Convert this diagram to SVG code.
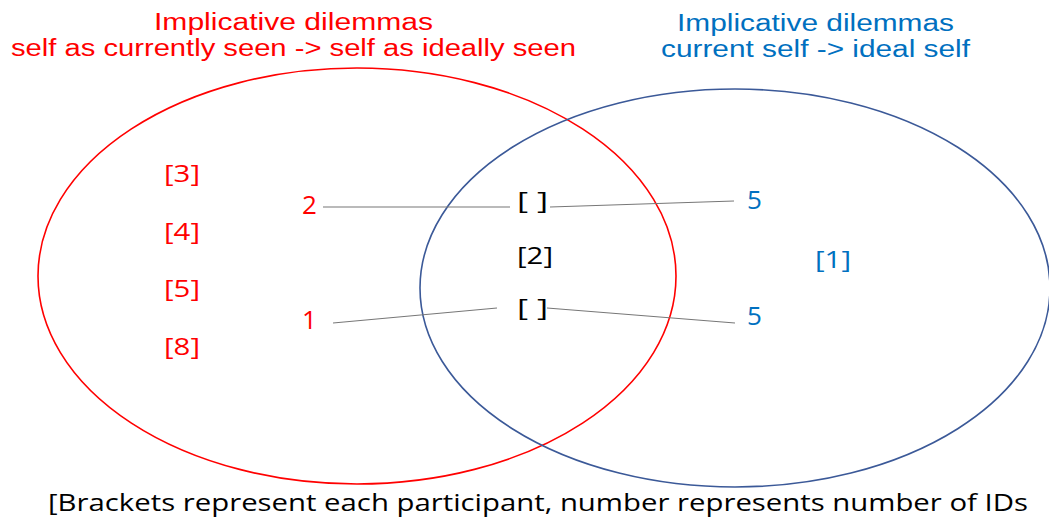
<svg xmlns="http://www.w3.org/2000/svg" width="1049" height="520" viewBox="0 0 1049 520">
<style>
text{font-family:"Open Sans","Liberation Sans",sans-serif;font-size:24px}
.t{font-family:"Liberation Sans","Open Sans",sans-serif;font-size:23px}
.n{font-size:26px}
.r{fill:#ff0000}.b{fill:#0070c0}.k{fill:#000}
.c{stroke:#777;stroke-width:1.2;fill:none}
</style>
<rect width="1049" height="520" fill="#fff"/>
<g id="ellipse-red"><ellipse cx="357" cy="276" rx="319" ry="208" fill="none" stroke="#ff0000" stroke-width="1.6"/></g>
<g id="ellipse-blue"><ellipse cx="735" cy="288" rx="315" ry="199" fill="none" stroke="#3b5998" stroke-width="1.6"/></g>
<g id="title-red"><text x="154" y="30" class="r t" textLength="279" lengthAdjust="spacingAndGlyphs">Implicative dilemmas</text><text x="11" y="56" class="r t" textLength="565" lengthAdjust="spacingAndGlyphs">self as currently seen -&gt; self as ideally seen</text></g>
<g id="title-blue"><text x="677" y="31" class="b t" textLength="277" lengthAdjust="spacingAndGlyphs">Implicative dilemmas</text><text x="661" y="57" class="b t" textLength="309" lengthAdjust="spacingAndGlyphs">current self -&gt; ideal self</text></g>
<g id="red-list"><text x="164" y="182" class="r" textLength="36" lengthAdjust="spacingAndGlyphs">[3]</text><text x="164" y="240" class="r" textLength="36" lengthAdjust="spacingAndGlyphs">[4]</text><text x="164" y="297" class="r" textLength="36" lengthAdjust="spacingAndGlyphs">[5]</text><text x="164" y="355" class="r" textLength="36" lengthAdjust="spacingAndGlyphs">[8]</text></g>
<g id="n2-red"><text x="302" y="214" class="r n">2</text></g>
<g id="n1-red"><text x="302" y="329" class="r n">1</text></g>
<g id="p-top"><text x="517" y="209" class="k" textLength="31" lengthAdjust="spacingAndGlyphs">[  ]</text></g>
<g id="p-mid"><text x="517" y="264" class="k" textLength="36" lengthAdjust="spacingAndGlyphs">[2]</text></g>
<g id="p-bot"><text x="517" y="316" class="k" textLength="31" lengthAdjust="spacingAndGlyphs">[  ]</text></g>
<g id="n5-top"><text x="747" y="209" class="b n">5</text></g>
<g id="n5-bot"><text x="747" y="325" class="b n">5</text></g>
<g id="blue-list"><text x="815" y="268" class="b" textLength="36" lengthAdjust="spacingAndGlyphs">[1]</text></g>
<g id="connectors">
<line class="c" x1="323" y1="207" x2="510" y2="207"/>
<line class="c" x1="550" y1="207" x2="734" y2="201"/>
<line class="c" x1="333" y1="323" x2="497" y2="308"/>
<line class="c" x1="547" y1="308" x2="735" y2="323"/>
</g>
<g id="footer"><text x="48" y="511" class="k" textLength="980" lengthAdjust="spacingAndGlyphs">[Brackets represent each participant, number represents number of IDs</text></g>
</svg>
